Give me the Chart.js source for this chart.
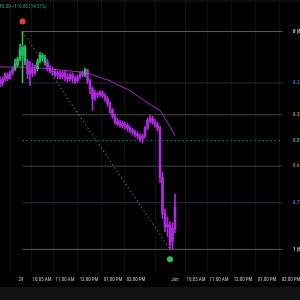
<!DOCTYPE html>
<html><head><meta charset="utf-8">
<script src="https://cdn.jsdelivr.net/npm/chart.js@4/dist/chart.umd.min.js"></script>
<style>html,body{margin:0;padding:0;background:#000;overflow:hidden}</style>
</head><body>
<canvas id="c" width="300" height="300"></canvas>
<script>
// ---- data (one bar per 5-minute slot) ----
const openP  = [780,778.5,781,783,781,784,786,788,791,793,797,790,783.5,786,784,786,790,793,791.5,789.5,786,785,784.5,783,784,782,784,782,781,783,781,780,782,783,783,785.5,780,776,771,773.5,773,774,772.5,771,768.5,765,762,759.5,758,758.5,757,757.5,756,755,754,753,752,750.5,752,756,760,761,759,758,756,731,712.5,706,707,698.5,705];
const closeP = [778.5,781,783,781,784,786,788.5,791,796,797,790,783.5,786,784,786,790,793,791.5,789.5,786,785,784.5,783,784,782,784,782,781,783,781,780,782,783,784,785.5,780,776,771,773.5,773,774,772.5,771,768.5,765,762,759.5,758,758.5,757,757.5,756,755,754,753,752,750.5,752,756,760,761,759,758,756,731,712.5,706,707,697,705,716];
const highP  = [782,782,784,784,785,787,791,792,798.5,805,798,791,790,789,788,791,794.5,794,793,791,788,787,786,785,785,785,785,783.5,784,784,782.5,783,784.5,785,786.5,786,781,777,775,774.5,775,775,773.5,772,769.5,766,763,761,760,759.5,759,758.5,757,756,755,754,753,753,757,761,762.5,762,760.5,759,757,733.5,715,711,708.5,708,722.5];
const lowP   = [777,777.5,780,780,781,783,785,787,790,779,788,781,777.5,782,783,785,789,790,788,785,784,783,782,781,781,781,780,779.5,780,779,778.5,779,781,782,782,778.5,773.5,765,770,771.5,772,771.5,769.5,767,763.5,761,758,757,756.5,756,755.5,754.5,753.5,752.5,751.5,750.5,749,748.5,751,755,758.5,758,756.5,754.5,728.5,710,703.5,701,694.5,694.5,703];
// moving average readings (bar slot, value)
const maSlot = [0,8,16,24,32,36,44,52,60,64,66,69,70];
const maVal  = [787,787,786.5,785.5,784.5,783.5,780,775,768,765,761,754.5,752];
// time axis
const tickPos    = [8.4,16.8,26,35.6,45.2,54.4,70,78.4,87.6,97.2,106.8,116.4];
const tickLabels = ['29','10:05 AM','11:00 AM','12:00 PM','01:00 PM','02:00 PM','Jun','10:05 AM','11:00 AM','12:00 PM','01:00 PM','02:00 PM'];
// fibonacci retracement
const fibRatios = [0,0.236,0.382,0.5,0.618,0.786,1];
const fibEndSlot = 113;
const headerText = '695.50 \u2212116.80 (14.51%)';

// ---- styles ----
const fibLineColors  = ['#5e5e5e','#2a2c38','#44443e','#1c7a7a','#4a4236','#282a40','#5a5a5a'];
const fibLabelColors = ['#d0d0d0','#4a63b0','#a08a40','#26b0b0','#a08040','#4a63b0','#d0d0d0'];
const UP = '#22c063', DN = '#b02ae0';
const FONT = '"Liberation Sans Narrow", "Roboto Condensed", Roboto, sans-serif';

// ---- derived ----
const hiVal = Math.max(...highP), loVal = Math.min(...lowP);
const hiIdx = highP.indexOf(hiVal), loIdx = lowP.indexOf(loVal);
function maAt(i){
  for(let k=0;k<maSlot.length-1;k++){
    if(i>=maSlot[k]&&i<=maSlot[k+1]){const t=(i-maSlot[k])/(maSlot[k+1]-maSlot[k]);return maVal[k]+t*(maVal[k+1]-maVal[k]);}
  }
  return maVal[maVal.length-1];
}
const barColors = closeP.map((c,i)=> c>maAt(i)?UP:DN);
const fibLevels = fibRatios.map(r=>hiVal - r*(hiVal-loVal));

const datasets = [];
datasets.push({type:'bar',data:closeP.map((c,i)=>({x:i,y:[openP[i],c]})),backgroundColor:barColors,barThickness:2,minBarLength:1,grouped:false,order:1});
datasets.push({type:'bar',data:closeP.map((c,i)=>({x:i,y:[lowP[i],highP[i]]})),backgroundColor:barColors,barThickness:1,grouped:false,order:2});
datasets.push({type:'line',data:maSlot.map((s,k)=>({x:s,y:maVal[k]})),borderColor:'#9d2ac4',borderWidth:1,pointRadius:0,tension:0,order:3});
datasets.push({type:'line',data:[{x:hiIdx,y:hiVal},{x:loIdx,y:loVal}],borderColor:'#7a7a7a',borderWidth:1,borderDash:[1.5,2.5],pointRadius:0,order:5});
fibLevels.forEach((v,k)=>{
  datasets.push({type:'line',data:[{x:hiIdx,y:v},{x:fibEndSlot,y:v}],borderColor:fibLineColors[k],borderWidth:1,borderDash:fibRatios[k]===0.5?[1.5,2.5]:[],pointRadius:0,order:10});
});

const deco = {
  id:'deco',
  beforeDraw(ch){
    const c=ch.ctx; c.save();
    c.fillStyle='#000'; c.fillRect(0,0,300,300);
    c.fillStyle='#131313'; c.fillRect(0,287,300,13);
    c.fillStyle='#0e0e0e'; c.fillRect(0,0,300,2);
    c.restore();
  },
  afterDraw(ch){
    const c=ch.ctx, xs=ch.scales.x, ys=ch.scales.y; c.save();
    c.font='5px '+FONT; c.textBaseline='middle';
    c.fillStyle='#1fa870'; c.fillText(headerText,-3,7);
    c.font='bold 5px '+FONT;
    fibLevels.forEach((v,k)=>{
      c.fillStyle=fibLabelColors[k];
      c.fillText(fibRatios[k]+' ('+v.toFixed(2)+')',293,ys.getPixelForValue(v));
    });
    c.fillStyle='#f23645'; c.beginPath(); c.arc(xs.getPixelForValue(hiIdx),ys.getPixelForValue(hiVal)-10,3,0,Math.PI*2); c.fill();
    c.fillStyle='#22c55e'; c.beginPath(); c.arc(xs.getPixelForValue(loIdx),ys.getPixelForValue(loVal)+10,3,0,Math.PI*2); c.fill();
    c.restore();
  }
};

new Chart(document.getElementById('c'),{
  type:'bar',
  data:{datasets},
  options:{
    responsive:false,animation:false,
    layout:{padding:{left:0,right:0,top:0,bottom:12},autoPadding:false},
    plugins:{legend:{display:false},tooltip:{enabled:false}},
    scales:{
      x:{type:'linear',min:0,max:120,offset:false,
         grid:{color:'#121212',drawTicks:false},border:{display:false},
         afterBuildTicks:(ax)=>{ax.ticks=tickPos.map(v=>({value:v}));},
         afterFit:(ax)=>{ax.paddingLeft=0;ax.paddingRight=0;},
         ticks:{autoSkip:false,maxRotation:0,padding:5,color:'#c4c4c4',font:{size:5,family:FONT},
           callback:(v,i)=>tickLabels[i]}},
      y:{display:false,min:683,max:821}
    }
  },
  plugins:[deco]
});
</script>
</body></html>
